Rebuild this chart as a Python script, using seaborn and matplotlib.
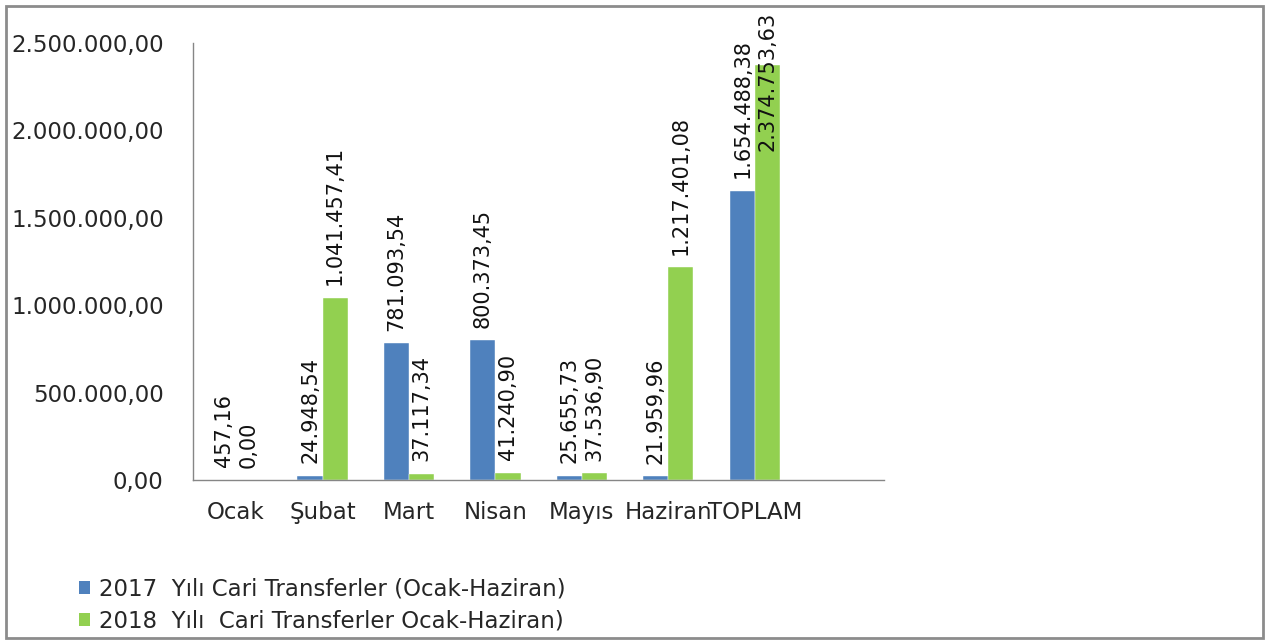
import matplotlib
matplotlib.use("Agg")
import matplotlib.pyplot as plt
from matplotlib.patches import Rectangle, Patch
import seaborn as sns
import pandas as pd
import numpy as np

aylar = ["Ocak", "Şubat", "Mart", "Nisan", "Mayıs", "Haziran", "TOPLAM"]
seri_2017 = [457.16, 24948.54, 781093.54, 800373.45, 25655.73, 21959.96, 1654488.38]
seri_2018 = [0.00, 1041457.41, 37117.34, 41240.90, 37536.90, 1217401.08, 2374753.63]
etiket_2017 = "2017  Yılı Cari Transferler (Ocak-Haziran)"
etiket_2018 = "2018  Yılı  Cari Transferler Ocak-Haziran)"
y_ticks = [0, 500000, 1000000, 1500000, 2000000, 2500000]

MAVI = "#4F81BD"
YESIL = "#92D050"
GRI = "#868686"
YAZI = "#262626"
FS = 16.5      # yatay yazilar
FS_ETIKET = 15  # dikey veri etiketleri


def tr_format(v):
    s = f"{v:,.2f}"
    return s.replace(",", "X").replace(".", ",").replace("X", ".")


df = pd.DataFrame({
    "Ay": aylar * 2,
    "Deger": seri_2017 + seri_2018,
    "Seri": [etiket_2017] * len(aylar) + [etiket_2018] * len(aylar),
})

sns.set_style("white")
plt.rcParams['font.family'] = ['DejaVu Sans']

fig = plt.figure(figsize=(12.69, 6.40), dpi=100)
ax = fig.add_axes([0.152, 0.25, 0.545, 0.683])

sns.barplot(data=df, x="Ay", y="Deger", hue="Seri", order=aylar,
            palette=[MAVI, YESIL], width=0.58, gap=0, ax=ax, legend=False,
            edgecolor="white", linewidth=0.3, saturation=1)

ax.set_xlim(-0.5, len(aylar) + 0.5)
ax.set_ylim(0, 2500000)
ax.set_yticks(y_ticks)
ax.set_yticklabels([tr_format(t) for t in y_ticks], fontsize=FS, color=YAZI)

# kategori sinirlarinda tik, ortada etiket
ax.set_xticks(np.arange(-0.5, len(aylar) + 0.6, 1))
ax.set_xticklabels([])
ax.set_xticks(np.arange(len(aylar)), minor=True)
ax.set_xticklabels(aylar, minor=True, fontsize=FS, color=YAZI)
ax.tick_params(axis="x", which="major", length=7, color=GRI, width=1, direction="out")
ax.tick_params(axis="x", which="minor", length=0, pad=15)
ax.tick_params(axis="y", length=7, color=GRI, width=1, direction="out", pad=14)
ax.set_xlabel("")
ax.set_ylabel("")

for side in ["top", "right"]:
    ax.spines[side].set_visible(False)
for side in ["left", "bottom"]:
    ax.spines[side].set_color(GRI)
    ax.spines[side].set_linewidth(1)

# veri etiketleri
for cont in ax.containers:
    for bar in cont:
        h = bar.get_height()
        x = bar.get_x() + bar.get_width() / 2
        if h > 2200000:
            ax.annotate(tr_format(h), (x, h), xytext=(0, 38), textcoords="offset points",
                        ha="center", va="top", rotation=90, fontsize=FS_ETIKET, color="#111111")
        else:
            ax.annotate(tr_format(h), (x, h), xytext=(0, 9), textcoords="offset points",
                        ha="center", va="bottom", rotation=90, fontsize=FS_ETIKET, color="#111111")

handles = [Patch(facecolor=MAVI, edgecolor="none"), Patch(facecolor=YESIL, edgecolor="none")]
fig.legend(handles, [etiket_2017, etiket_2018], loc="upper left",
           bbox_to_anchor=(0.062, 0.098), frameon=False, fontsize=FS,
           handlelength=0.5, handleheight=0.5, handletextpad=0.4, labelspacing=0.42,
           borderaxespad=0, borderpad=0)

fig.patches.append(Rectangle((6 / 1269, 2 / 640), 1257 / 1269, 632 / 640,
                             transform=fig.transFigure, fill=False,
                             edgecolor="#8c8c8c", linewidth=2))

fig.savefig("out.png", dpi=100)
